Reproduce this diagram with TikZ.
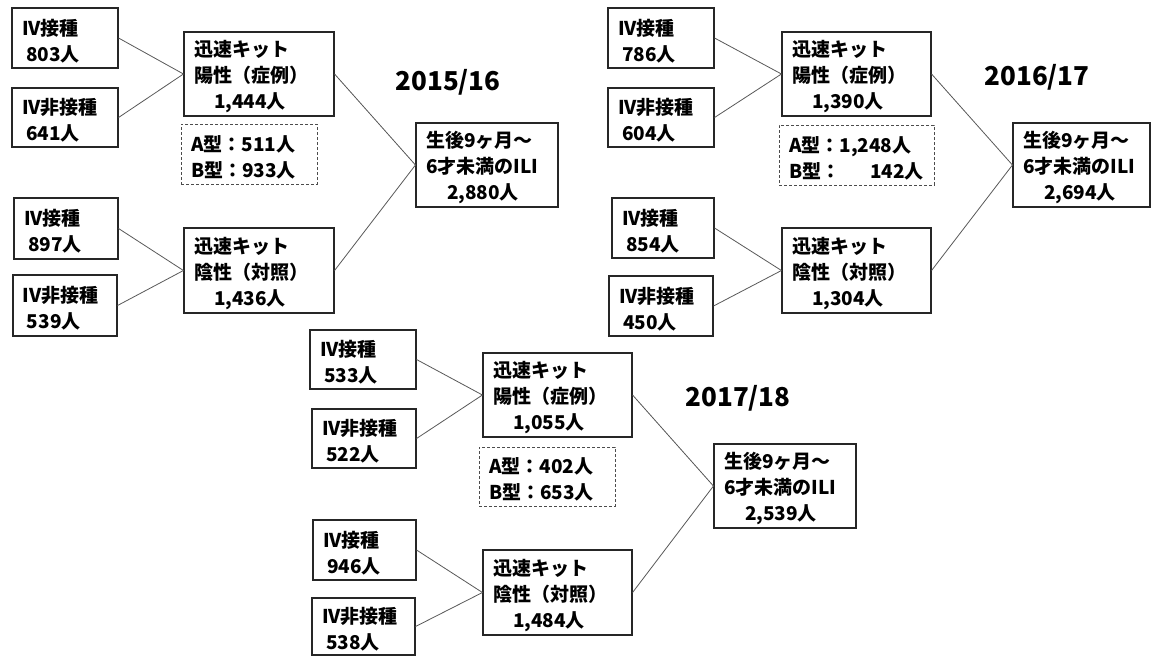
\documentclass[tikz,border=0pt]{standalone}
\usepackage{fontspec}
\setmainfont{Noto Sans CJK JP}
\tikzset{
  bx/.style={draw=black!85, line width=1.1pt, inner xsep=10pt, inner ysep=1pt, align=left,
    font=\fontsize{19}{26}\selectfont\bfseries, anchor=center, fill=white,
    execute at begin node={\rule{0pt}{22pt}}},
  dbx/.style={bx, draw=black!70, line width=0.9pt, dash pattern=on 3pt off 2pt},
  conn/.style={draw=black!65, line width=0.8pt},
  ttl/.style={font=\fontsize{26}{30}\selectfont\bfseries}
}
\newcommand\bx[7]{%
  \pgfmathsetmacro\bxw{#4-#2-20}%
  \pgfmathsetmacro\bxh{#5-#3}%
  \pgfmathsetmacro\bxx{(#2+#4)/2}%
  \pgfmathsetmacro\bxy{(#3+#5)/2}%
  \node[#6, text width=\bxw pt, minimum height=\bxh pt] (#1) at (\bxx,\bxy) {#7};}
\begin{document}
\begin{tikzpicture}[x=1pt,y=-1pt]
\useasboundingbox[fill=white] (0,0) rectangle (1153,657);
% ---------- 2015/16 ----------
\bx{a1}{12}{8}{118}{68}{bx}{IV接種\\\hspace*{4pt}803人}
\bx{a2}{12}{88}{118}{147}{bx}{IV非接種\\\hspace*{4pt}641人}
\bx{ap}{184}{32}{334}{116}{bx}{迅速キット\\陽性（症例）\\\hspace*{20pt}1,444人}
\bx{ad}{181}{124}{317}{184}{dbx}{A型：511人\\B型：933人}
\bx{a3}{14}{198}{118}{259}{bx}{IV接種\\\hspace*{4pt}897人}
\bx{a4}{13}{275}{117}{336}{bx}{IV非接種\\\hspace*{4pt}539人}
\bx{an}{184}{228}{334}{313}{bx}{迅速キット\\陰性（対照）\\\hspace*{20pt}1,436人}
\bx{ai}{416}{123}{558}{207}{bx}{生後9ヶ月～\\6才未満のILI\\\hspace*{21pt}2,880人}
\node[ttl] (at) at (448,82) {2015/16};
\draw[conn] (a1.east) -- (ap.west);
\draw[conn] (a2.east) -- (ap.west);
\draw[conn] (a3.east) -- (an.west);
\draw[conn] (a4.east) -- (an.west);
\draw[conn] (ap.east) -- (ai.west);
\draw[conn] (an.east) -- (ai.west);
% ---------- 2016/17 ----------
\bx{b1}{608}{8}{714}{68}{bx}{IV接種\\\hspace*{4pt}786人}
\bx{b2}{608}{88}{714}{147}{bx}{IV非接種\\\hspace*{4pt}604人}
\bx{bp}{782}{32}{931}{116}{bx}{迅速キット\\陽性（症例）\\\hspace*{20pt}1,390人}
\bx{bd}{779}{125}{934}{185}{dbx}{A型：1,248人\\B型：\hphantom{1,2}142人}
\bx{b3}{612}{198}{714}{258}{bx}{IV接種\\\hspace*{4pt}854人}
\bx{b4}{609}{276}{713}{336}{bx}{IV非接種\\\hspace*{4pt}450人}
\bx{bn}{782}{228}{931}{313}{bx}{迅速キット\\陰性（対照）\\\hspace*{20pt}1,304人}
\bx{bi}{1013}{123}{1150}{207}{bx}{生後9ヶ月～\\6才未満のILI\\\hspace*{21pt}2,694人}
\node[ttl] (bt) at (1037,77) {2016/17};
\draw[conn] (b1.east) -- (bp.west);
\draw[conn] (b2.east) -- (bp.west);
\draw[conn] (b3.east) -- (bn.west);
\draw[conn] (b4.east) -- (bn.west);
\draw[conn] (bp.east) -- (bi.west);
\draw[conn] (bn.east) -- (bi.west);
% ---------- 2017/18 ----------
\bx{c1}{310}{330}{416}{389}{bx}{IV接種\\\hspace*{4pt}533人}
\bx{c2}{312}{409}{416}{468}{bx}{IV非接種\\\hspace*{4pt}522人}
\bx{cp}{483}{353}{632}{437}{bx}{迅速キット\\陽性（症例）\\\hspace*{20pt}1,055人}
\bx{cd}{479}{447}{615}{506}{dbx}{A型：402人\\B型：653人}
\bx{c3}{313}{520}{416}{580}{bx}{IV接種\\\hspace*{4pt}946人}
\bx{c4}{312}{598}{415}{655}{bx}{IV非接種\\\hspace*{4pt}538人}
\bx{cn}{483}{550}{632}{635}{bx}{迅速キット\\陰性（対照）\\\hspace*{20pt}1,484人}
\bx{ci}{714}{444}{856}{528}{bx}{生後9ヶ月～\\6才未満のILI\\\hspace*{21pt}2,539人}
\node[ttl] (ct) at (738,398) {2017/18};
\draw[conn] (c1.east) -- (cp.west);
\draw[conn] (c2.east) -- (cp.west);
\draw[conn] (c3.east) -- (cn.west);
\draw[conn] (c4.east) -- (cn.west);
\draw[conn] (cp.east) -- (ci.west);
\draw[conn] (cn.east) -- (ci.west);
\end{tikzpicture}
\end{document}
